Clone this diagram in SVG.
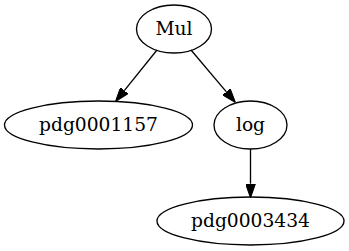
<svg xmlns="http://www.w3.org/2000/svg" width="349" height="251" viewBox="0 0 349 251">
<style>
.node ellipse{fill:none;stroke:#000;stroke-width:1.33}
.node text{font-family:"DejaVu Serif",serif;font-size:18.67px;text-anchor:middle;fill:#000}
.edges path{fill:none;stroke:#000;stroke-width:1.33}
</style>
<defs>
<marker id="arr" markerUnits="userSpaceOnUse" markerWidth="14" markerHeight="10" viewBox="0 0 13.33 9.33" refX="0" refY="4.67" orient="auto">
<path d="M0,0 L13.33,4.67 L0,9.33 z" fill="#000" stroke="#000" stroke-width="1"/>
</marker>
</defs>
<rect width="349" height="251" fill="#fff"/>
<g class="edges">
<path d="M157,50 L124.3,90.6" marker-end="url(#arr)"/>
<path d="M191,50 L226.4,91.85" marker-end="url(#arr)"/>
<path d="M250.5,149 L250.5,183.7" marker-end="url(#arr)"/>
</g>
<g id="Mul" class="node"><ellipse cx="174" cy="29" rx="37.5" ry="24"/><text x="174" y="35">Mul</text></g>
<g id="pdg0001157" class="node"><ellipse cx="98.5" cy="125" rx="94" ry="24"/><text x="98.5" y="131">pdg0001157</text></g>
<g id="log" class="node"><ellipse cx="250.5" cy="125" rx="36.5" ry="24"/><text x="250.5" y="131">log</text></g>
<g id="pdg0003434" class="node"><ellipse cx="250.5" cy="221" rx="93.5" ry="24"/><text x="250.5" y="227">pdg0003434</text></g>
</svg>
